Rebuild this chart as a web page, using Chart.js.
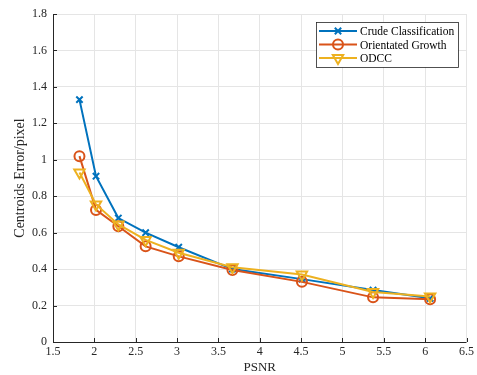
<!DOCTYPE html>
<html>
<head>
<meta charset="utf-8">
<script src="https://cdn.jsdelivr.net/npm/chart.js@4.4.1/dist/chart.umd.min.js"></script>
<style>
  html, body { margin: 0; padding: 0; background: #fff; }
  #wrap { width: 477px; height: 375px; }
</style>
</head>
<body>
<div id="wrap"><canvas id="chart" width="477" height="375"></canvas></div>
<script>
// data
var psnr = [1.82, 2.02, 2.29, 2.62, 3.02, 3.67, 4.51, 5.37, 6.06];
var crude = [1.33, 0.91, 0.68, 0.60, 0.52, 0.40, 0.345, 0.285, 0.24];
var orient = [1.02, 0.725, 0.635, 0.525, 0.47, 0.395, 0.33, 0.245, 0.235];
var odcc = [0.93, 0.755, 0.645, 0.56, 0.49, 0.41, 0.37, 0.275, 0.25];
var names = ["Crude Classification", "Orientated Growth", "ODCC"];

var FONT = "'Liberation Serif', 'Times New Roman', serif";
var AXIS = "#262626";

function pts(ys) {
  return ys.map(function (y, i) {
    return { x: psnr[i], y: y };
  });
}

function series(label, ys, color, style, radius, rot, order) {
  return {
    label: label,
    data: pts(ys),
    borderColor: color,
    backgroundColor: "rgba(0,0,0,0)",
    borderWidth: 2,
    pointStyle: style,
    pointRadius: radius,
    pointRotation: rot,
    pointBorderWidth: 2,
    pointBorderColor: color,
    pointBackgroundColor: "rgba(0,0,0,0)",
    showLine: true,
    tension: 0,
    order: order,
  };
}

// MATLAB-like inward ticks, axis lines and the boxed legend
var matlabBits = {
  id: "matlabBits",
  afterDatasetsDraw: function (chart) {
    var ctx = chart.ctx;
    var a = chart.chartArea;
    var xs = chart.scales.x;
    var ys = chart.scales.y;
    ctx.save();
    ctx.strokeStyle = AXIS;
    ctx.lineWidth = 1;
    ctx.beginPath();
    ctx.moveTo(a.left + 0.5, a.top);
    ctx.lineTo(a.left + 0.5, a.bottom + 0.5);
    ctx.lineTo(a.right, a.bottom + 0.5);
    xs.ticks.forEach(function (t) {
      var px = Math.round(xs.getPixelForValue(t.value)) + 0.5;
      ctx.moveTo(px, a.bottom);
      ctx.lineTo(px, a.bottom - 4);
    });
    ys.ticks.forEach(function (t) {
      var py = Math.round(ys.getPixelForValue(t.value)) + 0.5;
      ctx.moveTo(a.left, py);
      ctx.lineTo(a.left + 4, py);
    });
    ctx.stroke();

    // legend box
    var bx = 316, by = 22, bw = 142, bh = 45;
    ctx.fillStyle = "#fff";
    ctx.fillRect(bx, by, bw, bh);
    ctx.strokeStyle = "#262626";
    ctx.lineWidth = 0.8;
    ctx.strokeRect(bx + 0.5, by + 0.5, bw, bh);
    ctx.font = "11.5px " + FONT;
    ctx.textBaseline = "middle";
    chart.data.datasets.forEach(function (ds, i) {
      var ly = by + 9 + i * 13.5;
      ctx.strokeStyle = ds.borderColor;
      ctx.lineWidth = 2;
      ctx.beginPath();
      ctx.moveTo(bx + 3, ly);
      ctx.lineTo(bx + 41, ly);
      ctx.stroke();
      ctx.fillStyle = "rgba(0,0,0,0)";
      Chart.helpers.drawPoint(
        ctx,
        {
          pointStyle: ds.pointStyle,
          radius: ds.pointRadius,
          rotation: ds.pointRotation,
          borderWidth: 2,
        },
        bx + 22,
        ly
      );
      ctx.fillStyle = "#000";
      ctx.fillText(ds.label, bx + 44, ly + 1);
    });
    ctx.restore();
  },
};

new Chart(document.getElementById("chart").getContext("2d"), {
  type: "scatter",
  data: {
    datasets: [
      series(names[0], crude, "#0072BD", "crossRot", 4.5, 0, 2),
      series(names[1], orient, "#D95319", "circle", 5, 0, 1),
      series(names[2], odcc, "#EDB120", "triangle", 6, 180, 0),
    ],
  },
  options: {
    responsive: false,
    animation: false,
    layout: { padding: { top: 14, right: 8, left: 0, bottom: 0 } },
    plugins: {
      legend: { display: false },
      tooltip: { enabled: false },
    },
    scales: {
      x: {
        type: "linear",
        min: 1.5,
        max: 6.5,
        ticks: {
          stepSize: 0.5,
          color: AXIS,
          font: { family: FONT, size: 12 },
          padding: 3,
          maxRotation: 0,
          callback: function (v) { return String(v); },
        },
        grid: { color: "#e5e5e5", drawTicks: false },
        border: { display: false },
        title: {
          display: true,
          text: "PSNR",
          color: AXIS,
          font: { family: FONT, size: 13 },
          padding: { top: 0, bottom: 0 },
        },
        afterFit: function (s) { s.height = 33; },
      },
      y: {
        min: 0,
        max: 1.8,
        ticks: {
          stepSize: 0.2,
          color: AXIS,
          font: { family: FONT, size: 12 },
          padding: 6,
          callback: function (v) { return String(Math.round(v * 10) / 10); },
        },
        grid: { color: "#e5e5e5", drawTicks: false },
        border: { display: false },
        title: {
          display: true,
          text: "Centroids Error/pixel",
          color: AXIS,
          font: { family: FONT, size: 14 },
          padding: { top: 12, bottom: 0 },
        },
        afterFit: function (s) { s.width = 53; },
      },
    },
  },
  plugins: [matlabBits],
});
</script>
</body>
</html>
